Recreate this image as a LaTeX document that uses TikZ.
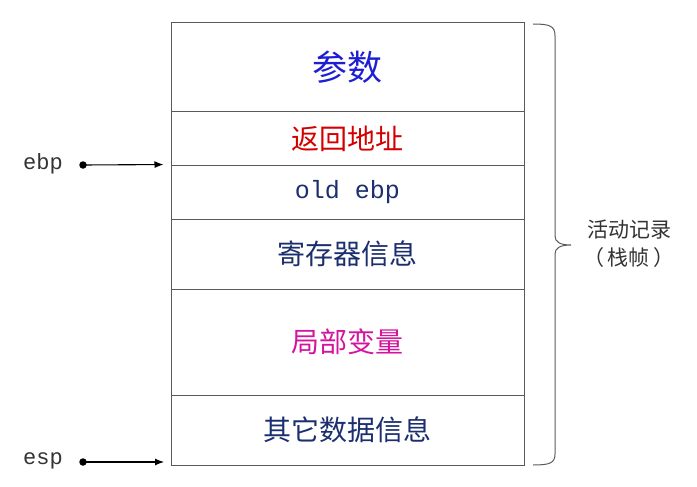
\documentclass[tikz,border=0pt]{standalone}
\usepackage{fontspec}
\newfontfamily\cjk{Noto Sans CJK SC}
\newfontfamily\mono{Liberation Mono}
\usetikzlibrary{arrows.meta}
\definecolor{pblue}{HTML}{1E1ED2}
\definecolor{pred}{HTML}{D40000}
\definecolor{pnavy}{HTML}{1B2E6E}
\definecolor{pmag}{HTML}{D4149C}
\definecolor{pgray}{HTML}{5A5A5A}
\definecolor{ptext}{HTML}{333333}
\tikzset{
  cell/.style={draw=pgray, line width=1pt, minimum width=353pt, inner sep=0pt, font=\cjk\fontsize{28}{30}\selectfont, text=pnavy},
  reglabel/.style={font=\mono\fontsize{22}{24}\selectfont, text=ptext},
  ptr/.style={line width=1.1pt, -{Latex[length=9pt,width=7pt]}, shorten >=7pt},
  dotm/.style={circle, fill=black, inner sep=0pt, minimum size=7.5pt},
  side/.style={font=\cjk\fontsize{21}{24}\selectfont, text=ptext}
}
\begin{document}
\begin{tikzpicture}[x=1pt,y=-1pt]
\useasboundingbox (0,0) rectangle (697,487);
\node[cell, minimum height=89pt, text=pblue, font=\cjk\fontsize{35}{38}\selectfont] (c1) at (347.5,67.5) {参数};
\node[cell, minimum height=53pt, text=pred] (c2) at (347.5,138.5) {返回地址};
\node[cell, minimum height=54pt, font=\mono\fontsize{25}{27}\selectfont, text=pnavy] (c3) at (347.5,192) {old ebp};
\node[cell, minimum height=70pt] (c4) at (347.5,254) {寄存器信息};
\node[cell, minimum height=106pt, text=pmag] (c5) at (347.5,342) {局部变量};
\node[cell, minimum height=70pt] (c6) at (347.5,430) {其它数据信息};
% pointers
\node[reglabel] (ebp) at (43,164) {ebp};
\node[dotm] (ebpd) at (83,165) {};
\draw[ptr] (ebpd.center) -- (c3.north west);
\node[reglabel] (esp) at (43,461) {esp};
\node[dotm] (espd) at (83,462) {};
\coordinate (espt) at (171,462);
\draw[ptr] (espd.center) -- (espt);
% brace
\draw[pgray, line width=1pt] (533,24) .. controls (550,24) and (555,26) .. (555,36) -- (555,236) .. controls (555,242) and (560,245) .. (571,245) .. controls (560,245) and (555,248) .. (555,254) -- (555,454) .. controls (555,463) and (550,465) .. (533,465);
\node[side] (lab1) at (629,230) {活动记录};
\node[side] (lab2) at (629,258) {（\,栈帧\,）};
\end{tikzpicture}
\end{document}
